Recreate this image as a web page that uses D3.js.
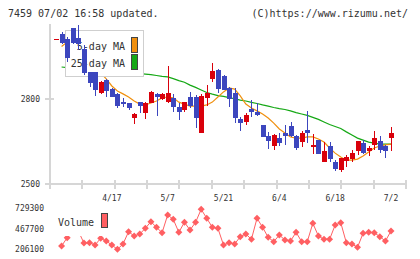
<!DOCTYPE html>
<html>
<head>
<meta charset="utf-8">
<script src="https://cdn.jsdelivr.net/npm/d3@7"></script>
<style>
    html, body { margin: 0; padding: 0; background: #fff; }
    svg { display: block; font-family: "DejaVu Sans Mono", monospace; }
</style>
</head>
<body>
<div id="chart"></div>
<script>
// daily prices, oldest first (61 sessions up to 7/2)
const openP = [3010, 3029, 3011, 3050, 3014, 2976, 2896, 2896, 2820, 2867,
    2834, 2817, 2790, 2787, 2734, 2789, 2752, 2787, 2817, 2799,
    2790, 2802, 2773, 2761, 2808, 2808, 2681, 2802, 2870, 2902,
    2881, 2838, 2820, 2728, 2720, 2764, 2755, 2708, 2669, 2635,
    2661, 2681, 2705, 2669, 2649, 2691, 2632, 2655, 2579, 2634,
    2579, 2549, 2582, 2587, 2617, 2644, 2617, 2638, 2652, 2635,
    2663];
const highP = [3012, 3037, 3020, 3052, 3061, 2990, 2896, 2896, 2862, 2870,
    2839, 2820, 2805, 2787, 2752, 2789, 2790, 2827, 2820, 2822,
    2917, 2817, 2785, 2790, 2826, 2814, 2817, 2849, 2926, 2906,
    2885, 2843, 2838, 2738, 2752, 2796, 2785, 2708, 2685, 2676,
    2679, 2708, 2720, 2673, 2688, 2758, 2676, 2655, 2649, 2647,
    2585, 2593, 2602, 2620, 2652, 2655, 2634, 2687, 2669, 2638,
    2702];
const lowP = [3010, 2994, 2932, 2995, 2973, 2885, 2843, 2812, 2818, 2806,
    2806, 2769, 2773, 2761, 2712, 2752, 2728, 2787, 2740, 2795,
    2785, 2755, 2726, 2755, 2767, 2697, 2681, 2776, 2861, 2820,
    2832, 2771, 2714, 2687, 2708, 2738, 2741, 2667, 2624, 2620,
    2634, 2638, 2665, 2620, 2632, 2644, 2606, 2606, 2579, 2579,
    2547, 2541, 2561, 2579, 2602, 2606, 2600, 2620, 2611, 2593,
    2618];
const closeP = [3012, 2997, 2946, 2999, 2994, 2893, 2857, 2832, 2861, 2828,
    2806, 2775, 2782, 2769, 2747, 2776, 2785, 2825, 2808, 2818,
    2822, 2773, 2753, 2790, 2776, 2732, 2812, 2822, 2899, 2834,
    2832, 2799, 2732, 2716, 2744, 2755, 2744, 2667, 2653, 2673,
    2644, 2670, 2670, 2628, 2681, 2681, 2638, 2606, 2618, 2588,
    2552, 2591, 2596, 2611, 2652, 2608, 2628, 2661, 2620, 2618,
    2681];

const ma5 = [null, 2985, 3001, 3001, 2991, 2966, 2941, 2916, 2892, 2871,
    2846, 2828, 2818, 2807, 2793, 2782, 2779, 2786, 2793, 2804,
    2807, 2804, 2789, 2782, 2775, 2775, 2775, 2779, 2789, 2807,
    2825, 2839, 2835, 2811, 2782, 2768, 2758, 2747, 2733, 2715,
    2694, 2680, 2666, 2662, 2662, 2666, 2666, 2659, 2648, 2627,
    2609, 2595, 2584, 2584, 2588, 2599, 2613, 2627, 2634, 2638,
    2641];
const ma25 = [null, 2913, 2911, 2909, 2908, 2906, 2904, 2902, 2901, 2899,
    2897, 2895, 2894, 2892, 2891, 2890, 2888, 2886, 2883, 2880,
    2878, 2872, 2865, 2859, 2849, 2841, 2832, 2823, 2817, 2812,
    2809, 2805, 2801, 2796, 2793, 2788, 2784, 2779, 2775, 2770,
    2766, 2763, 2758, 2752, 2747, 2742, 2735, 2728, 2719, 2710,
    2703, 2696, 2684, 2673, 2662, 2655, 2648, 2644, 2641, 2641,
    2641];

const volume = [null, 244700, 351400, 450300, 437500, 283200, 287100, 257500, 343600, 308900,
    257500, 202200, 270400, 428500, 373200, 398900, 472200, 557000, 485100, 415600,
    643200, 587900, 420800, 549300, 450300, 549300, 716400, 600700, 485100, 472200,
    257500, 287100, 270400, 364200, 398900, 330800, 600700, 485100, 356500, 299900,
    386100, 321800, 308900, 420800, 299900, 299900, 536500, 373200, 330800, 330800,
    514600, 544200, 287100, 270400, 228000, 407900, 420800, 415600, 364200, 308900,
    437500];

const priceTicks = [2500, 2800];
const volumeTicks = [206100, 467700, 729300];
const dateLabels = ["4/17", "5/7", "5/21", "6/4", "6/18", "7/2"];
const dateLabelIndex = [10, 20, 30, 40, 50, 60];

const UP = "#d9000b";
const DOWN = "#3c46be";
const MA5_COLOR = "#f0900f";
const MA25_COLOR = "#15a815";
const VOL_COLOR = "#ff5f62";
const AXIS = "#d6d6d6";
const TEXT = "#333";

const width = 420;
const height = 259;
const plotTop = 24;

const svg = d3.select("#chart")
    .append("svg")
    .attr("width", width)
    .attr("height", height);

const x = d3.scaleLinear()
    .domain([0, openP.length - 1])
    .range([56, 391]);

const y = d3.scaleLinear()
    .domain([2500, 2800])
    .range([184, 99]);

const yVol = d3.scaleLinear()
    .domain([206100, 729300])
    .range([249, 208.3]);

// header
svg.append("text")
    .attr("x", 8)
    .attr("y", 16.5)
    .attr("font-size", 10)
    .attr("fill", TEXT)
    .text("7459 07/02 16:58 updated.");

svg.append("text")
    .attr("x", 408)
    .attr("y", 16.5)
    .attr("text-anchor", "end")
    .attr("font-size", 10)
    .attr("fill", TEXT)
    .text("(C)https://www.rizumu.net/");

// axes
const axisG = svg.append("g")
    .attr("shape-rendering", "crispEdges")
    .attr("stroke", AXIS)
    .attr("stroke-width", 2);

const yBottom = y.range()[0];
const xLeft = 50;
const xRight = 406;

axisG.append("line")
    .attr("x1", xLeft).attr("x2", xLeft)
    .attr("y1", plotTop).attr("y2", yBottom);

axisG.append("line")
    .attr("x1", xLeft).attr("x2", xRight)
    .attr("y1", yBottom).attr("y2", yBottom);

axisG.selectAll(".ytick")
    .data(priceTicks)
    .enter()
    .append("line")
    .attr("x1", 45)
    .attr("x2", d => d === 2500 ? xLeft : 54)
    .attr("y1", d => y(d))
    .attr("y2", d => y(d));

const grid = d3.scaleLinear().domain([0, 11]).range([xLeft, xRight]);
axisG.selectAll(".xtick")
    .data(d3.range(12))
    .enter()
    .append("line")
    .attr("x1", d => Math.round(grid(d)))
    .attr("x2", d => Math.round(grid(d)))
    .attr("y1", yBottom - 4)
    .attr("y2", yBottom + 5);

svg.selectAll(".ylabel")
    .data(priceTicks)
    .enter()
    .append("text")
    .attr("x", 40)
    .attr("y", d => y(d) + 3)
    .attr("text-anchor", "end")
    .attr("font-size", 8)
    .attr("fill", TEXT)
    .text(d => d);

svg.selectAll(".xlabel")
    .data(dateLabels)
    .enter()
    .append("text")
    .attr("x", (d, i) => x(dateLabelIndex[i]))
    .attr("y", 201)
    .attr("text-anchor", "middle")
    .attr("font-size", 8)
    .attr("fill", TEXT)
    .text(d => d);

// moving averages
const maLine = d3.line()
    .defined(d => d != null)
    .x((d, i) => x(i))
    .y(d => y(d));

svg.append("path")
    .attr("d", maLine(ma25))
    .attr("fill", "none")
    .attr("stroke", MA25_COLOR)
    .attr("stroke-width", 1.2);

svg.append("path")
    .attr("d", maLine(ma5))
    .attr("fill", "none")
    .attr("stroke", MA5_COLOR)
    .attr("stroke-width", 1.2);

// price legend (sits under the candles)
const legend = svg.append("g").attr("shape-rendering", "crispEdges");
legend.append("rect")
    .attr("x", 65.5).attr("y", 30.5)
    .attr("width", 78).attr("height", 46)
    .attr("fill", "#fff")
    .attr("stroke", "#cfcfcf");

const legendItems = [["5-day MA", MA5_COLOR], ["25-day MA", MA25_COLOR]];
legendItems.forEach(([label, color], i) => {
    legend.append("text")
        .attr("x", 125)
        .attr("y", 49.5 + i * 17)
        .attr("text-anchor", "end")
        .attr("font-size", 10)
        .attr("fill", TEXT)
        .text(label);
    legend.append("rect")
        .attr("x", 131.5)
        .attr("y", 37.5 + i * 17)
        .attr("width", 6)
        .attr("height", 15)
        .attr("fill", color)
        .attr("stroke", "#444");
});

// candles
const candles = svg.append("g").attr("shape-rendering", "crispEdges");
openP.forEach((o, i) => {
    const c = closeP[i];
    const color = c >= o ? UP : DOWN;
    const cx = Math.round(x(i));
    const top = Math.round(y(Math.max(o, c)));
    const bottom = Math.round(y(Math.min(o, c)));

    candles.append("line")
        .attr("x1", cx + 0.5).attr("x2", cx + 0.5)
        .attr("y1", Math.round(y(highP[i])))
        .attr("y2", Math.round(y(lowP[i])))
        .attr("stroke", color)
        .attr("stroke-width", 1);

    candles.append("rect")
        .attr("x", cx - 2)
        .attr("y", top)
        .attr("width", 5)
        .attr("height", Math.max(1, bottom - top))
        .attr("fill", color);
});

// volume panel
svg.selectAll(".vlabel")
    .data(volumeTicks)
    .enter()
    .append("text")
    .attr("x", 44)
    .attr("y", d => yVol(d) + 3)
    .attr("text-anchor", "end")
    .attr("font-size", 8)
    .attr("fill", TEXT)
    .text(d => d);

const volLine = d3.line()
    .defined(d => d != null)
    .x((d, i) => x(i))
    .y(d => yVol(d));

svg.append("path")
    .attr("d", volLine(volume))
    .attr("fill", "none")
    .attr("stroke", VOL_COLOR)
    .attr("stroke-width", 1);

const volPoints = volume
    .map((v, i) => ({ i, v }))
    .filter(d => d.v != null);

svg.selectAll(".vmark")
    .data(volPoints)
    .enter()
    .append("path")
    .attr("d", d => {
        const px = x(d.i);
        const py = yVol(d.v);
        return `M${px},${py - 3.5}L${px + 3.5},${py}L${px},${py + 3.5}L${px - 3.5},${py}Z`;
    })
    .attr("fill", VOL_COLOR);

const volLegend = svg.append("g").attr("shape-rendering", "crispEdges");
volLegend.append("rect")
    .attr("x", 54).attr("y", 205)
    .attr("width", 58).attr("height", 31)
    .attr("fill", "#fff");

volLegend.append("text")
    .attr("x", 58)
    .attr("y", 225.5)
    .attr("font-size", 10)
    .attr("fill", TEXT)
    .text("Volume");

volLegend.append("rect")
    .attr("x", 101.5).attr("y", 213.5)
    .attr("width", 6).attr("height", 14)
    .attr("fill", VOL_COLOR)
    .attr("stroke", "#444");
</script>
</body>
</html>
